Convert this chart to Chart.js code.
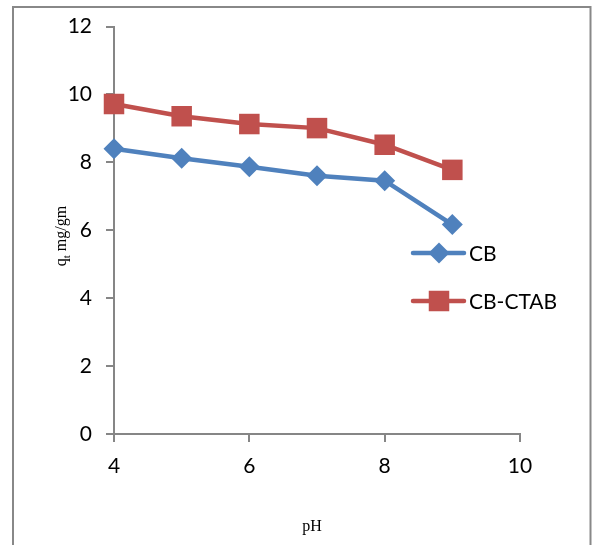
<!DOCTYPE html>
<html>
<head>
<meta charset="utf-8">
<script src="https://cdn.jsdelivr.net/npm/chart.js@4"></script>
<style>
  html, body { margin: 0; padding: 0; background: #fff; }
  #wrap { width: 592px; height: 545px; position: relative; }
</style>
</head>
<body>
<div id="wrap"><canvas id="chart"></canvas></div>
<script>
// pH vs adsorption capacity, CB and CB-CTAB
const phValues   = [4, 5, 6, 7, 8, 9];
const cbValues   = [8.40, 8.12, 7.87, 7.61, 7.46, 6.17];
const ctabValues = [9.72, 9.36, 9.13, 9.01, 8.52, 7.78];
const seriesNames = ['CB', 'CB-CTAB'];
const xTitle = 'pH';

const BLUE = '#4F81BD';
const RED = '#C0504D';
const AXIS = '#868686';
const TICK_FONT = {family: 'Lato', size: 21};
const SERIF = '"Liberation Serif"';

function pts(xs, ys){ return xs.map((x,i)=>({x: x, y: ys[i]})); }

// grey frame round the whole figure
const framePlugin = {
  id: 'frame',
  beforeDraw(chart){
    const ctx = chart.ctx;
    ctx.save();
    ctx.fillStyle = '#fff';
    ctx.fillRect(0, 0, chart.width, chart.height);
    ctx.strokeStyle = '#888';
    ctx.lineWidth = 2;
    ctx.strokeRect(13, 7, 577.5, 600);
    ctx.restore();
  }
};

// titles (y title has a subscript t)
const titlePlugin = {
  id: 'titles',
  afterDraw(chart){
    const ctx = chart.ctx;
    ctx.save();
    ctx.fillStyle = '#000';
    ctx.font = '16px ' + SERIF;
    ctx.textAlign = 'center';
    ctx.textBaseline = 'middle';
    ctx.fillText(xTitle, 312, 527);

    ctx.translate(62, 236);
    ctx.rotate(-Math.PI/2);
    ctx.textAlign = 'left';
    ctx.textBaseline = 'alphabetic';
    const q = 'q', sub = 't', rest = ' mg/gm';
    ctx.font = '16px ' + SERIF;
    const wq = ctx.measureText(q).width, wr = ctx.measureText(rest).width;
    ctx.font = '11px ' + SERIF;
    const ws = ctx.measureText(sub).width;
    let x = -(wq + ws + wr)/2;
    ctx.font = '16px ' + SERIF;
    ctx.fillText(q, x, 4); x += wq;
    ctx.font = '11px ' + SERIF;
    ctx.fillText(sub, x, 8); x += ws;
    ctx.font = '16px ' + SERIF;
    ctx.fillText(rest, x, 4);
    ctx.restore();
  }
};

// legend drawn to the right inside the plot
const legendPlugin = {
  id: 'sideLegend',
  afterDatasetsDraw(chart){
    const ctx = chart.ctx;
    const rows = [253, 301];
    ctx.save();
    chart.data.datasets.forEach((ds, i) => {
      const y = rows[i];
      ctx.strokeStyle = ds.borderColor;
      ctx.lineWidth = ds.borderWidth;
      ctx.lineCap = 'round';
      ctx.beginPath();
      ctx.moveTo(413, y);
      ctx.lineTo(464, y);
      ctx.stroke();
      ctx.fillStyle = ds.pointBackgroundColor;
      Chart.helpers.drawPoint(ctx, {pointStyle: ds.pointStyle, radius: ds.pointRadius, borderWidth: 0, rotation: 0}, 439, y);
      ctx.fillStyle = '#000';
      ctx.font = '21px Lato';
      ctx.textAlign = 'left';
      ctx.textBaseline = 'middle';
      ctx.fillText(ds.label, 469, y + 1);
    });
    ctx.restore();
  }
};

new Chart(document.getElementById('chart'), {
  type: 'line',
  data: {
    datasets: [
      {label: seriesNames[0], data: pts(phValues, cbValues), borderColor: BLUE, backgroundColor: BLUE,
       pointBackgroundColor: BLUE, borderWidth: 4.5, pointStyle: 'rectRot', pointRadius: 10.5,
       pointBorderWidth: 0, pointHoverRadius: 10.5, clip: false},
      {label: seriesNames[1], data: pts(phValues, ctabValues), borderColor: RED, backgroundColor: RED,
       pointBackgroundColor: RED, borderWidth: 4.5, pointStyle: 'rect', pointRadius: 14.5,
       pointBorderWidth: 0, pointHoverRadius: 14.5, clip: false}
    ]
  },
  options: {
    responsive: true,
    maintainAspectRatio: false,
    animation: false,
    events: [],
    layout: {padding: {left: 0, top: 23, right: 72, bottom: 0}},
    plugins: {legend: {display: false}, tooltip: {enabled: false}},
    scales: {
      x: {
        type: 'linear', min: 4, max: 10,
        ticks: {stepSize: 2, color: '#000', font: TICK_FONT, padding: 12},
        grid: {drawOnChartArea: false, drawTicks: true, tickLength: 8, color: AXIS, lineWidth: 2},
        border: {color: AXIS, width: 2},
        afterFit(s){ s.height = 111; }
      },
      y: {
        min: 0, max: 12,
        ticks: {stepSize: 2, color: '#000', font: TICK_FONT, padding: 14},
        grid: {drawOnChartArea: false, drawTicks: true, tickLength: 8, color: AXIS, lineWidth: 2},
        border: {color: AXIS, width: 2},
        afterFit(s){ s.width = 114; }
      }
    }
  },
  plugins: [framePlugin, titlePlugin, legendPlugin]
});
</script>
</body>
</html>
